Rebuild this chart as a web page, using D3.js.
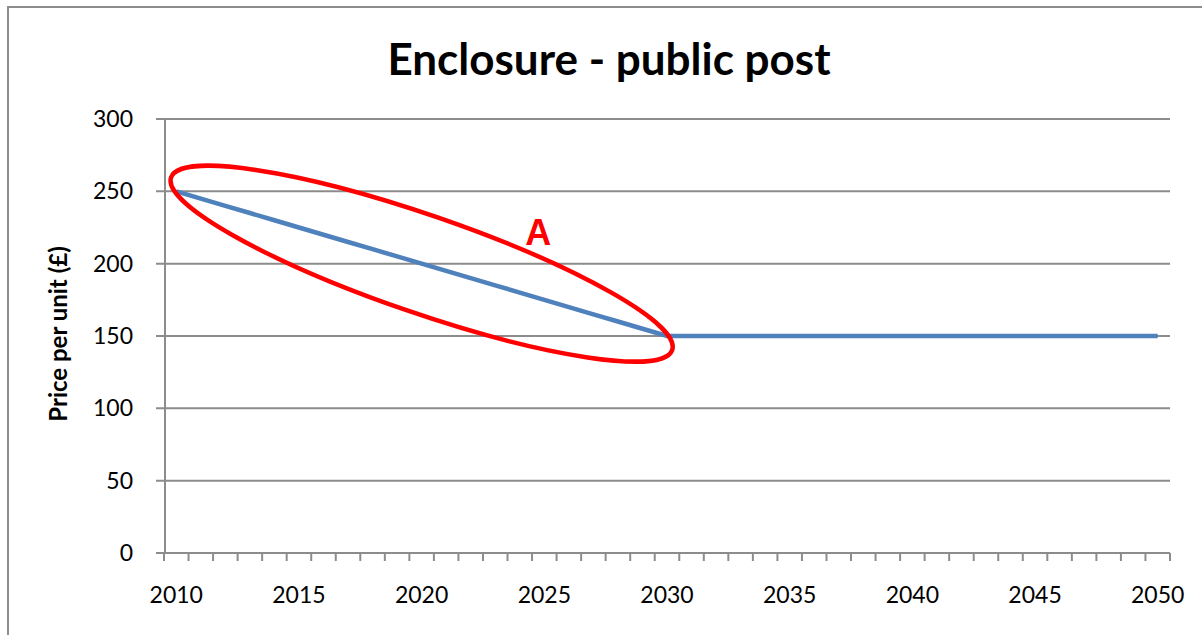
<!DOCTYPE html>
<html>
<head>
<meta charset="utf-8">
<script src="https://cdn.jsdelivr.net/npm/d3@7"></script>
<style>
  body { margin: 0; background: #fff; }
  svg { display: block; }
</style>
</head>
<body>
<div id="chart"></div>
<script>
// values
var years = [2010,2011,2012,2013,2014,2015,2016,2017,2018,2019,
             2020,2021,2022,2023,2024,2025,2026,2027,2028,2029,
             2030,2031,2032,2033,2034,2035,2036,2037,2038,2039,
             2040,2041,2042,2043,2044,2045,2046,2047,2048,2049,2050]
var prices = [250,245,240,235,230,225,220,215,210,205,
              200,195,190,185,180,175,170,165,160,155,
              150,150,150,150,150,150,150,150,150,150,
              150,150,150,150,150,150,150,150,150,150,150]
var yTicks = [0,50,100,150,200,250,300]
var xLabels = [2010,2015,2020,2025,2030,2035,2040,2045,2050]

// annotation ellipse (centre in data units) and its label
var ringCentre = {year: 2020, price: 200}
var labelPos = {year: 2024.75, price: 213}

var W = 1202, H = 635
var plotL = 164, plotR = 1170, plotT = 119, plotB = 553

var svg = d3.select("#chart").append("svg")
  .attr("width", W).attr("height", H)

// chart border
svg.append("rect")
  .attr("x", 8).attr("y", 7)
  .attr("width", W + 20).attr("height", H + 20)
  .attr("fill", "none").attr("stroke", "#8c8c8c").attr("stroke-width", 2)

var x = d3.scaleLinear()
  .domain([years[0] - 0.5, years[years.length - 1] + 0.5])
  .range([plotL, plotR])

var y = d3.scaleLinear()
  .domain([0, 300])
  .range([plotB, plotT])

// gridlines + y tick marks
svg.append("g").selectAll("line")
  .data(yTicks.filter(d => d > 0))
  .enter().append("line")
  .attr("x1", plotL - 8).attr("x2", plotR)
  .attr("y1", d => y(d)).attr("y2", d => y(d))
  .attr("stroke", "#8c8c8c").attr("stroke-width", 2)

// y axis
svg.append("line")
  .attr("x1", plotL + 1).attr("x2", plotL + 1)
  .attr("y1", y(300)).attr("y2", y(0))
  .attr("stroke", "#8c8c8c").attr("stroke-width", 2)

// x axis
svg.append("line")
  .attr("x1", plotL - 8).attr("x2", plotR)
  .attr("y1", y(0)).attr("y2", y(0))
  .attr("stroke", "#8c8c8c").attr("stroke-width", 2)

var tickPos = years.map(d => d - 0.5).concat([years[years.length - 1] + 0.5])
svg.append("g").selectAll("line")
  .data(tickPos)
  .enter().append("line")
  .attr("x1", d => x(d)).attr("x2", d => x(d))
  .attr("y1", y(0)).attr("y2", y(0) + 8)
  .attr("stroke", "#8c8c8c").attr("stroke-width", 2)

// y labels
svg.append("g").selectAll("text")
  .data(yTicks)
  .enter().append("text")
  .attr("x", 133).attr("y", d => y(d))
  .attr("dy", "0.35em")
  .attr("text-anchor", "end")
  .style("font-family", "Lato, 'Open Sans', sans-serif")
  .style("font-size", "23px")
  .text(d => d)

// x labels
svg.append("g").selectAll("text")
  .data(xLabels)
  .enter().append("text")
  .attr("x", d => x(d)).attr("y", 603)
  .attr("text-anchor", "middle")
  .style("font-family", "Lato, 'Open Sans', sans-serif")
  .style("font-size", "23px")
  .text(d => d)

// title
svg.append("text")
  .attr("x", 609).attr("y", 75)
  .attr("text-anchor", "middle")
  .style("font-family", "Lato, 'Open Sans', sans-serif")
  .style("font-weight", "bold")
  .style("font-size", "44px")
  .text("Enclosure - public post")

// y axis title
svg.append("text")
  .attr("transform", "translate(67,334) rotate(-90)")
  .attr("text-anchor", "middle")
  .style("font-family", "Lato, 'Open Sans', sans-serif")
  .style("font-weight", "bold")
  .style("font-size", "24px")
  .text("Price per unit (£)")

// series line
var line = d3.line()
  .x((d, i) => x(years[i]))
  .y(d => y(d))

svg.append("path")
  .datum(prices)
  .attr("d", line)
  .attr("fill", "none")
  .attr("stroke", "#4f81bd")
  .attr("stroke-width", 4.5)

// red ring annotation
var cx = x(ringCentre.year), cy = y(ringCentre.price)
svg.append("ellipse")
  .attr("cx", 0).attr("cy", 0)
  .attr("rx", 265).attr("ry", 49)
  .attr("transform", "translate(" + cx + "," + cy + ") rotate(19)")
  .attr("fill", "none")
  .attr("stroke", "#ff0000")
  .attr("stroke-width", 4.5)

svg.append("text")
  .attr("x", x(labelPos.year)).attr("y", y(labelPos.price))
  .attr("text-anchor", "middle")
  .style("font-family", "'Liberation Sans', Arial, sans-serif")
  .style("font-weight", "bold")
  .style("font-size", "36px")
  .attr("fill", "#ff0000")
  .text("A")
</script>
</body>
</html>
